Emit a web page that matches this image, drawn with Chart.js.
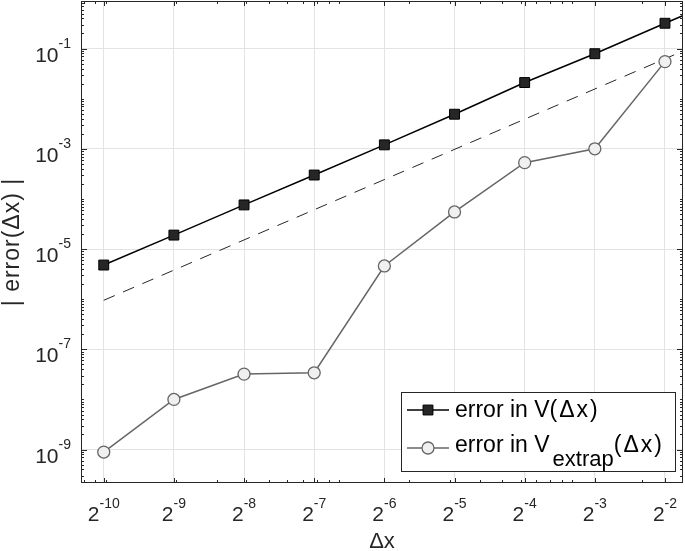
<!DOCTYPE html>
<html>
<head>
<meta charset="utf-8">
<script src="https://cdn.jsdelivr.net/npm/chart.js@4.4.1/dist/chart.umd.min.js"></script>
<style>
  html, body { margin: 0; padding: 0; background: #fff; }
</style>
</head>
<body>
<canvas id="errChart" width="685" height="551"></canvas>
<script>
// grid spacings dx = 2^-10 ... 2^-2 (last value 2^-1 lies past the axis, only its line segment shows)
const dxValues = [1/1024, 1/512, 1/256, 1/128, 1/64, 1/32, 1/16, 1/8, 1/4, 1/2];
const xTickExps = ['-10', '-9', '-8', '-7', '-6', '-5', '-4', '-3', '-2'];
const yTickExps = ['-9', '-7', '-5', '-3', '-1'];

// |error|
const errV = [4.8e-6, 1.9e-5, 7.6e-5, 3.0e-4, 1.2e-3, 4.9e-3, 2.1e-2, 7.9e-2, 0.32, 1.27];
const errExtrap = [8.9e-10, 1.0e-8, 3.2e-8, 3.4e-8, 4.6e-6, 5.5e-5, 5.3e-4, 1.0e-3, 0.055];

// dashed second-order reference line
const refDx = [1/1024, 1/2];
const refErr = [9.5e-7, 0.25];

const axisColor = '#262626';
const FONT = '"Liberation Sans", Arial, Helvetica, sans-serif';

function pts(xs, ys) {
    return ys.map((y, i) => ({ x: xs[i], y: y }));
}

function minorValues(min, max) {
    const out = [];
    for (let e = Math.floor(Math.log10(min)); e <= Math.ceil(Math.log10(max)); e++) {
        for (let m = 1; m < 10; m++) {
            const v = m * Math.pow(10, e);
            if (v >= min && v <= max) out.push(v);
        }
    }
    return out;
}

// axes box, inward ticks, tick labels with exponents, titles, legend
const matlabAxes = {
    id: 'matlabAxes',
    afterDraw(chart) {
        const { ctx, chartArea: a, scales } = chart;
        const xs = scales.x, ys = scales.y;
        ctx.save();
        ctx.strokeStyle = axisColor;
        ctx.fillStyle = axisColor;
        ctx.lineWidth = 1;
        const seg = (x1, y1, x2, y2) => { ctx.beginPath(); ctx.moveTo(x1, y1); ctx.lineTo(x2, y2); ctx.stroke(); };

        ctx.strokeRect(a.left + 0.5, a.top + 0.5, a.right - a.left - 1, a.bottom - a.top - 1);

        const xMajor = xs.ticks.map(t => t.value);
        const yMajor = ys.ticks.map(t => t.value);
        minorValues(xs.min, xs.max).forEach(v => {
            const p = Math.round(xs.getPixelForValue(v)) + 0.5;
            seg(p, a.bottom, p, a.bottom - 3);
            seg(p, a.top, p, a.top + 3);
        });
        xMajor.forEach(v => {
            const p = Math.round(xs.getPixelForValue(v)) + 0.5;
            seg(p, a.bottom, p, a.bottom - 5);
            seg(p, a.top, p, a.top + 5);
        });
        minorValues(ys.min, ys.max).forEach(v => {
            const p = Math.round(ys.getPixelForValue(v)) + 0.5;
            seg(a.left, p, a.left + 3, p);
            seg(a.right, p, a.right - 3, p);
        });
        yMajor.forEach(v => {
            const p = Math.round(ys.getPixelForValue(v)) + 0.5;
            seg(a.left, p, a.left + 6, p);
            seg(a.right, p, a.right - 6, p);
        });

        // x tick labels 2^n
        ctx.textBaseline = 'alphabetic';
        ctx.textAlign = 'left';
        xMajor.forEach((v, i) => {
            const p = xs.getPixelForValue(v);
            ctx.font = '21px ' + FONT;
            const wb = ctx.measureText('2').width;
            ctx.font = '14px ' + FONT;
            const we = ctx.measureText(xTickExps[i]).width;
            const x0 = p - (wb + we) / 2;
            ctx.font = '21px ' + FONT;
            ctx.fillText('2', x0, a.bottom + 38);
            ctx.font = '14px ' + FONT;
            ctx.fillText(xTickExps[i], x0 + wb, a.bottom + 25);
        });

        // y tick labels 10^n
        yMajor.forEach((v, i) => {
            const p = ys.getPixelForValue(v);
            ctx.font = '14px ' + FONT;
            const we = ctx.measureText(yTickExps[i]).width;
            const xr = a.left - 10;
            ctx.textAlign = 'left';
            ctx.fillText(yTickExps[i], xr - we, p - 1);
            ctx.font = '21px ' + FONT;
            ctx.textAlign = 'right';
            ctx.fillText('10', xr - we, p + 13);
        });

        // axis titles
        ctx.font = '22px ' + FONT;
        ctx.textAlign = 'center';
        ctx.fillText('\u0394x', (a.left + a.right) / 2, 548);
        ctx.save();
        ctx.translate(19, (a.top + a.bottom) / 2);
        ctx.rotate(-Math.PI / 2);
        ctx.font = '23px ' + FONT;
        ctx.letterSpacing = '1px';
        ctx.fillText('| error(\u0394x) |', 0, 0);
        ctx.restore();

        // legend
        const ds = chart.data.datasets;
        const bx = a.right - 282, by = a.bottom - 91, bw = 274, bh = 79;
        ctx.fillStyle = '#fff';
        ctx.fillRect(bx, by, bw, bh);
        ctx.strokeStyle = axisColor;
        ctx.strokeRect(bx + 0.5, by + 0.5, bw, bh);
        const rows = [by + 18, by + 56];
        [0, 1].forEach(k => {
            const d = ds[k];
            const y = rows[k];
            ctx.strokeStyle = d.borderColor;
            ctx.lineWidth = d.borderWidth;
            seg(bx + 6, y, bx + 48, y);
            ctx.fillStyle = d.pointBackgroundColor;
            ctx.strokeStyle = d.pointBorderColor;
            ctx.lineWidth = d.pointBorderWidth;
            Chart.helpers.drawPoint(ctx, { pointStyle: d.pointStyle, radius: d.pointRadius, borderWidth: d.pointBorderWidth, rotation: 0 }, bx + 27, y);
        });
        ctx.fillStyle = '#000';
        ctx.textAlign = 'left';
        const tx = bx + 54;
        const spaced = (txt, x, y) => {
            ctx.letterSpacing = '2px';
            ctx.fillText(txt, x, y);
            const w = ctx.measureText(txt).width;
            ctx.letterSpacing = '0px';
            return w;
        };
        ctx.font = '23px ' + FONT;
        ctx.fillText('error in V', tx, rows[0] + 7);
        spaced('(\u0394x)', tx + ctx.measureText('error in V').width, rows[0] + 7);
        let cx = tx;
        ctx.fillText('error in V', cx, rows[1] + 4);
        cx += ctx.measureText('error in V').width + 3;
        ctx.font = '22px ' + FONT;
        ctx.fillText('extrap', cx, rows[1] + 18);
        cx += ctx.measureText('extrap').width;
        ctx.font = '23px ' + FONT;
        spaced('(\u0394x)', cx, rows[1] + 4);
        ctx.restore();
    }
};

const ctx = document.getElementById('errChart').getContext('2d');
new Chart(ctx, {
    type: 'line',
    data: {
        datasets: [
            { label: 'error in V(\u0394x)', data: pts(dxValues, errV), borderColor: '#000', borderWidth: 1.5,
              pointStyle: 'rect', pointRadius: 7, pointBackgroundColor: '#262626', pointBorderColor: '#000', pointBorderWidth: 1 },
            { label: 'error in V_extrap(\u0394x)', data: pts(dxValues, errExtrap), borderColor: '#666', borderWidth: 1.5,
              pointStyle: 'circle', pointRadius: 6, pointBackgroundColor: '#f0f0f0', pointBorderColor: '#666', pointBorderWidth: 1.3 },
            { label: 'reference', data: pts(refDx, refErr), borderColor: '#262626', borderWidth: 1, borderDash: [12, 9],
              pointRadius: 0 }
        ]
    },
    options: {
        responsive: false,
        animation: false,
        layout: { autoPadding: false, padding: { top: 1, right: 2, left: 0, bottom: 0 } },
        plugins: { legend: { display: false }, tooltip: { enabled: false } },
        scales: {
            x: {
                type: 'logarithmic', min: 7.8e-4, max: 0.2987,
                grid: { color: '#e3e3e3', drawTicks: false },
                border: { display: false },
                ticks: { display: false },
                afterBuildTicks: s => { s.ticks = dxValues.slice(0, 9).map(v => ({ value: v })); },
                afterFit: s => { s.height = 68; }
            },
            y: {
                type: 'logarithmic', min: 2.15e-10, max: 0.89,
                grid: { color: '#e3e3e3', drawTicks: false },
                border: { display: false },
                ticks: { display: false },
                afterBuildTicks: s => { s.ticks = yTickExps.map(e => ({ value: Math.pow(10, Number(e)) })); },
                afterFit: s => { s.width = 81; }
            }
        }
    },
    plugins: [matlabAxes]
});
</script>
</body>
</html>
